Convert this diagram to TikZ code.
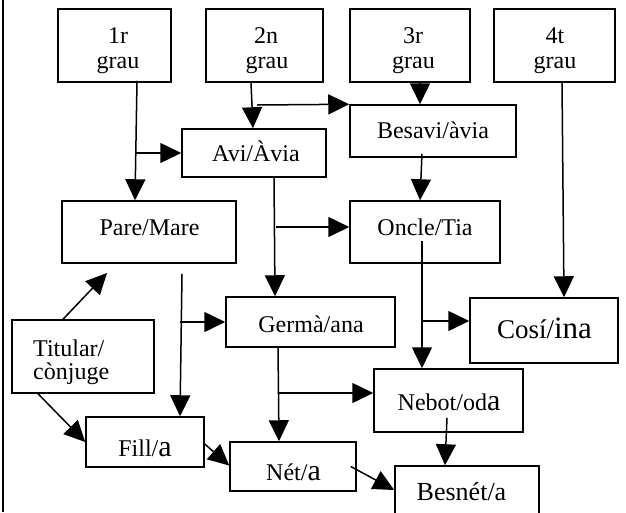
\documentclass[tikz,border=0pt]{standalone}
\usepackage{fontspec}
\setmainfont{Liberation Serif}
\usetikzlibrary{arrows.meta}
\begin{document}
\begin{tikzpicture}[x=1pt,y=-1pt,
  box/.style={draw,line width=1.5pt,inner sep=0pt,rectangle},
  lab/.style={anchor=base,inner sep=0pt,font=\fontsize{24}{26}\selectfont},
  arr/.style={line width=1.5pt,-{Triangle[length=21pt,width=20pt]}}]
\clip (0,0) rectangle (626,512);
\draw[line width=2.2pt] (3,0) -- (3,512);
% boxes
\node[box,minimum width=113pt,minimum height=73pt] (g1) at (114.5,45.5) {};
\node[box,minimum width=117pt,minimum height=73pt] (g2) at (264.5,45.5) {};
\node[box,minimum width=120pt,minimum height=73pt] (g3) at (410,45.5) {};
\node[box,minimum width=121pt,minimum height=73pt] (g4) at (554.5,45.5) {};
\node[box,minimum width=144pt,minimum height=48pt] (avi) at (254,153) {};
\node[box,minimum width=166pt,minimum height=52pt] (besavi) at (433,131) {};
\node[box,minimum width=174pt,minimum height=62pt] (pare) at (149,232) {};
\node[box,minimum width=150pt,minimum height=62pt] (oncle) at (425,232) {};
\node[box,minimum width=142pt,minimum height=73pt] (tit) at (83,356.5) {};
\node[box,minimum width=169pt,minimum height=50pt] (germa) at (310.5,322) {};
\node[box,minimum width=148pt,minimum height=65pt] (cosi) at (544,330.5) {};
\node[box,minimum width=149pt,minimum height=63pt] (nebot) at (448.5,400.5) {};
\node[box,minimum width=118pt,minimum height=50pt] (fill) at (145,442) {};
\node[box,minimum width=126pt,minimum height=49pt] (net) at (293,466.5) {};
\node[box,minimum width=144pt,minimum height=64pt] (besnet) at (467,498) {};
% branch points
\coordinate (b1) at (135,153);
\coordinate (b2) at (257,105);
\coordinate (b3) at (276,227);
\coordinate (b4) at (423,321);
\coordinate (b5) at (180,322);
\coordinate (b6) at (278,393);
\coordinate (tp) at (107,273);
% connectors
\draw[arr] ([xshift=22.5pt,yshift=2pt]g1.south) -- ([xshift=-14pt]pare.north);
\draw[arr] (b1) -- (avi.west);
\draw[arr] ([xshift=-13.5pt]g2.south) -- ([xshift=-1pt]avi.north);
\draw[arr] (b2) -- (besavi.north west);
\draw[arr] ([xshift=10pt]g3.south) -- ([xshift=-13pt]besavi.north);
\draw[arr] ([xshift=-11pt,yshift=4pt]besavi.south) -- ([xshift=-5pt]oncle.north);
\draw[arr] ([xshift=20pt]avi.south) -- ([xshift=-35.5pt]germa.north);
\draw[arr] (b3) -- (b3 -| oncle.west);
\draw[arr] ([xshift=7.5pt]g4.south) -- ([xshift=20pt]cosi.north);
\draw[arr] ([xshift=-3pt,yshift=23pt]oncle.south) -- ([xshift=-26.5pt]nebot.north);
\draw[arr] (b4) -- (b4 -| cosi.west);
\draw[arr] ([xshift=33pt,yshift=-10pt]pare.south) -- ([xshift=35pt]fill.north);
\draw[arr] (b5) -- (b5 -| germa.west);
\draw[arr] ([xshift=-20pt]tit.north) -- (tp);
\draw[arr] ([xshift=-45pt]tit.south) -- (fill.west);
\draw[arr] ([xshift=-32.5pt]germa.south) -- ([xshift=-14pt]net.north);
\draw[arr] (b6) -- (b6 -| nebot.west);
\draw[arr] ([yshift=-2pt]fill.east) -- ([yshift=1pt]net.west);
\draw[arr] ([xshift=-6pt]net.east) -- ([yshift=8pt]besnet.west);
\draw[arr] ([xshift=-1.5pt,yshift=15pt]nebot.south) -- ([xshift=-22pt]besnet.north);
% labels
\node[lab] (t1a) at (118,43) {1r};
\node[lab] (t1b) at (118,68) {grau};
\node[lab] (t2a) at (266,43) {2n};
\node[lab] (t2b) at (267,68) {grau};
\node[lab] (t3a) at (413,43) {3r};
\node[lab] (t3b) at (413.5,68) {grau};
\node[lab] (t4a) at (555,43) {4t};
\node[lab] (t4b) at (555,68) {grau};
\node[lab] (tavi) at (256,161) {Avi/Àvia};
\node[lab] (tbesavi) at (433,138) {Besavi/àvia};
\node[lab] (tpare) at (149.5,235) {Pare/Mare};
\node[lab] (toncle) at (425,235) {Oncle/Tia};
\node[lab,anchor=base west] (ttit1) at (33,356) {Titular/};
\node[lab,anchor=base west] (ttit2) at (33,379) {cònjuge};
\node[lab] (tgerma) at (311,332) {Germà/ana};
\node[lab] (tcosi) at (544.5,338) {\fontsize{27}{27}\selectfont Cosí/\fontsize{31}{31}\selectfont ina};
\node[lab] (tnebot) at (449,410) {Nebot/od{\fontsize{30}{30}\selectfont a}};
\node[lab] (tfill) at (145,456) {Fill/{\fontsize{30}{30}\selectfont a}};
\node[lab] (tnet) at (293.5,480) {Nét/{\fontsize{30}{30}\selectfont a}};
\node[lab] (tbesnet) at (461.5,500) {\fontsize{26}{26}\selectfont Besnét/a};
\end{tikzpicture}
\end{document}
